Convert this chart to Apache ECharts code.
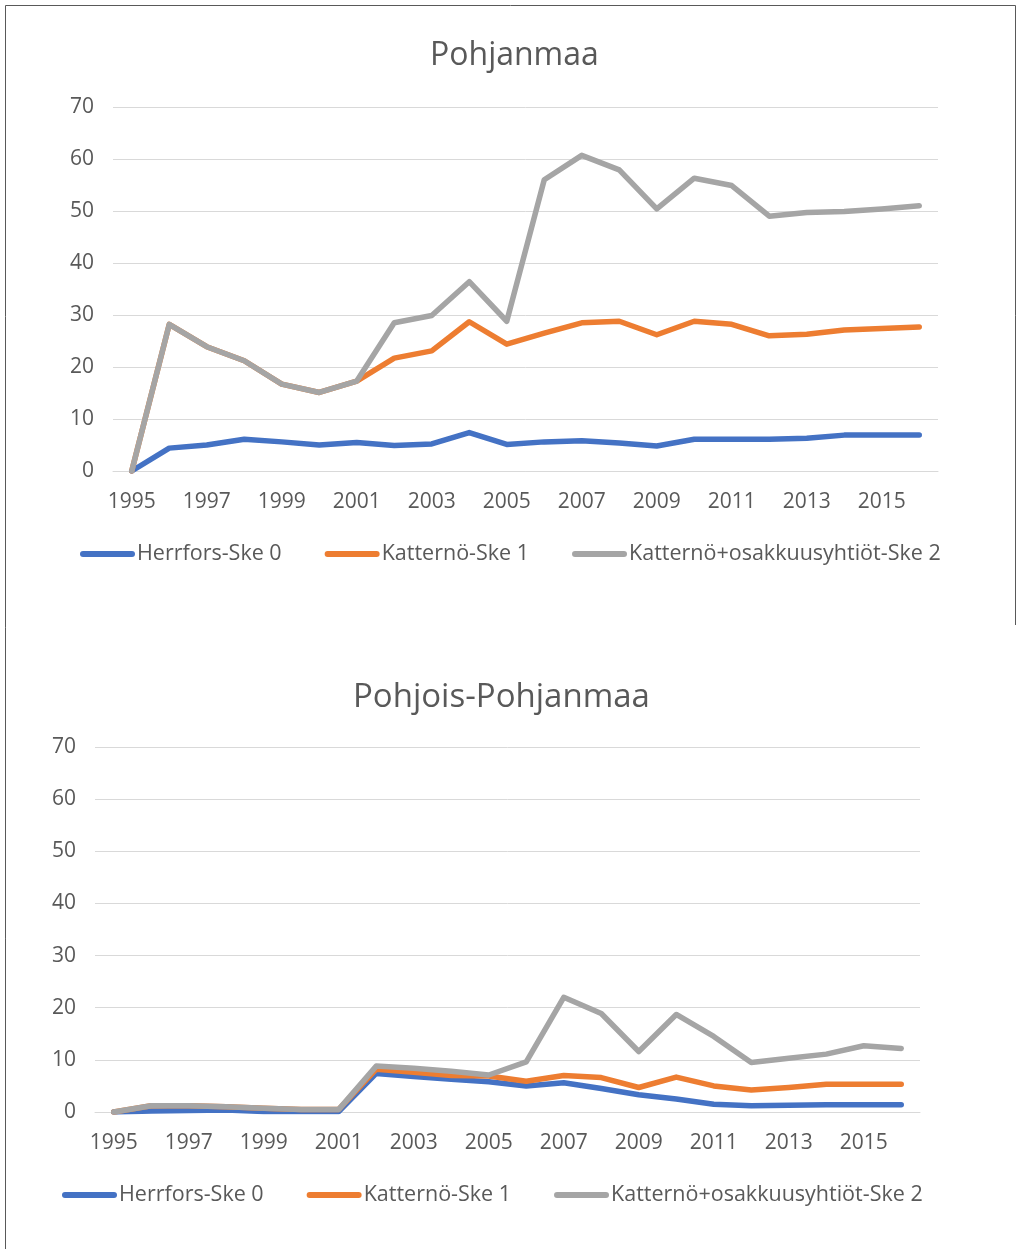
<!DOCTYPE html>
<html>
<head>
<meta charset="utf-8">
<script src="https://cdn.jsdelivr.net/npm/echarts@6/dist/echarts.min.js"></script>
<style>
html,body{margin:0;padding:0;background:#fff;}
#chart{width:1017px;height:1249px;}
</style>
</head>
<body>
<div id="chart"></div>
<script>
const years = ['1995','1996','1997','1998','1999','2000','2001','2002','2003','2004','2005','2006','2007','2008','2009','2010','2011','2012','2013','2014','2015','2016'];
const seriesNames = ['Herrfors-Ske 0','Katternö-Ske 1','Katternö+osakkuusyhtiöt-Ske 2'];
const titleTop = 'Pohjanmaa';
const titleBottom = 'Pohjois-Pohjanmaa';

// Pohjanmaa
const topHerrfors = [0,4.4,5.0,6.1,5.6,5.0,5.5,4.9,5.2,7.4,5.1,5.6,5.8,5.4,4.8,6.1,6.1,6.1,6.3,6.9,6.9,6.9];
const topKatterno = [0,28.2,23.9,21.2,16.7,15.1,17.3,21.7,23.1,28.7,24.4,26.5,28.5,28.8,26.2,28.8,28.2,26.0,26.3,27.1,27.4,27.7];
const topKatternoPlus = [0,28.2,23.9,21.2,16.7,15.1,17.3,28.5,29.9,36.4,28.8,56.0,60.7,57.9,50.4,56.3,54.9,49.0,49.7,49.9,50.4,51.0];

// Pohjois-Pohjanmaa
const botHerrfors = [0,0.2,0.3,0.4,0.1,0.1,0.1,7.4,6.8,6.3,5.8,5.0,5.6,4.5,3.3,2.5,1.5,1.2,1.3,1.4,1.4,1.4];
const botKatterno = [0,1.2,1.2,1.0,0.7,0.5,0.5,8.2,7.6,7.0,6.9,5.9,7.0,6.6,4.7,6.7,5.0,4.2,4.7,5.3,5.3,5.3];
const botKatternoPlus = [0,1.2,1.2,1.0,0.7,0.5,0.5,8.8,8.4,7.8,7.1,9.6,22.0,18.9,11.6,18.7,14.5,9.5,10.3,11.1,12.7,12.2];

const colors = ['#4472C4','#ED7D31','#A5A5A5'];
const FONT = '"Open Sans", sans-serif';
const txt = '#595959';

function xAxis(gi){
  return {
    type:'category', gridIndex:gi, data:years, boundaryGap:true,
    axisLine:{show:true, lineStyle:{color:'#D9D9D9', width:1}},
    axisTick:{show:false},
    axisLabel:{interval:1, color:txt, fontSize:21, fontFamily:FONT, margin:21}
  };
}
function yAxis(gi){
  return {
    type:'value', gridIndex:gi, min:0, max:70, interval:10,
    axisLine:{show:false}, axisTick:{show:false},
    splitLine:{lineStyle:{color:'#D9D9D9', width:1}},
    axisLabel:{color:txt, fontSize:21, fontFamily:FONT, margin:19}
  };
}
function line(name, data, gi, ci){
  return {
    name:name, type:'line', xAxisIndex:gi, yAxisIndex:gi, data:data,
    showSymbol:false, symbol:'none', smooth:false,
    lineStyle:{color:colors[ci], width:5.5, cap:'round', join:'round'},
    itemStyle:{color:colors[ci]},
    emphasis:{disabled:true}, animation:false
  };
}
function legend(top, left){
  return {
    top:top, left:left, orient:'horizontal', padding:0,
    data:seriesNames.map(n=>({name:n, icon:'path://M3,0 L52,0 A3,3 0 0 1 52,6 L3,6 A3,3 0 0 1 3,0 Z'})),
    itemWidth:55, itemHeight:6, itemGap:43,
    textStyle:{color:txt, fontSize:21.5, fontFamily:FONT, padding:[0,0,0,-3]},
    selectedMode:false
  };
}

const chart = echarts.init(document.getElementById('chart'), null, {renderer:'canvas'});
chart.setOption({
  backgroundColor:'#fff',
  animation:false,
  title:[
    {text:titleTop, left:430, top:40, padding:0, textStyle:{color:txt, fontSize:32, fontWeight:'normal', fontFamily:FONT}},
    {text:titleBottom, left:353, top:681, padding:0, textStyle:{color:txt, fontSize:33, fontWeight:'normal', fontFamily:FONT}}
  ],
  grid:[
    {left:113, width:825, top:107, height:364},
    {left:95, width:825, top:747, height:365}
  ],
  legend:[legend(543, 80), legend(1184, 62)],
  xAxis:[xAxis(0), xAxis(1)],
  yAxis:[yAxis(0), yAxis(1)],
  series:[
    line(seriesNames[0], topHerrfors, 0, 0),
    line(seriesNames[1], topKatterno, 0, 1),
    line(seriesNames[2], topKatternoPlus, 0, 2),
    line(seriesNames[0], botHerrfors, 1, 0),
    line(seriesNames[1], botKatterno, 1, 1),
    line(seriesNames[2], botKatternoPlus, 1, 2)
  ],
  graphic:[
    {type:'line', shape:{x1:5.5, y1:5.5, x2:5.5, y2:1249}, style:{stroke:'#595959', lineWidth:1}},
    {type:'line', shape:{x1:5.5, y1:5.5, x2:1015.5, y2:5.5}, style:{stroke:'#595959', lineWidth:1}},
    {type:'line', shape:{x1:1015.5, y1:5.5, x2:1015.5, y2:625}, style:{stroke:'#595959', lineWidth:1}}
  ]
});
</script>
</body>
</html>
